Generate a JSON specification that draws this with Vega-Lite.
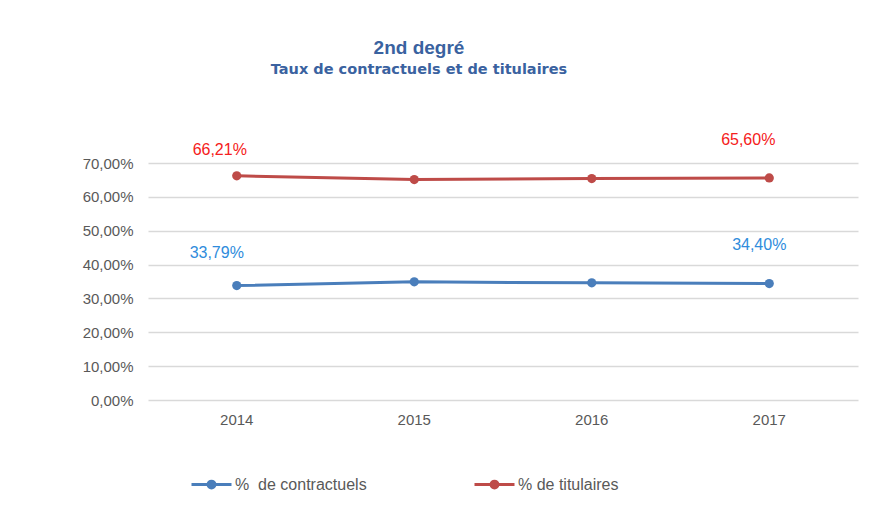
{
  "$schema": "https://vega.github.io/schema/vega-lite/v6.json",
  "width": 710,
  "height": 237,
  "autosize": {"type": "none"},
  "padding": {"left": 148, "top": 163, "right": 29, "bottom": 118},
  "background": "white",
  "config": {
    "locale": {"number": {"decimal": ",", "thousands": " ", "grouping": [3], "currency": ["", " €"]}},
    "view": {"stroke": null},
    "font": "Liberation Sans"
  },
  "title": {
    "text": "2nd degré",
    "subtitle": "Taux de contractuels et de titulaires",
    "anchor": "middle",
    "frame": "group",
    "dx": -84,
    "offset": 55,
    "font": "Liberation Sans",
    "fontSize": 19,
    "fontWeight": "bold",
    "color": "#3A62A0",
    "subtitleFont": "DejaVu Sans",
    "subtitleFontSize": 14.5,
    "subtitleFontWeight": "bold",
    "subtitleColor": "#3A62A0",
    "subtitlePadding": 5
  },
  "data": {
    "values": [
      {"annee": "2014", "serie": "% de contractuels", "taux": 0.3379},
      {"annee": "2015", "serie": "% de contractuels", "taux": 0.349},
      {"annee": "2016", "serie": "% de contractuels", "taux": 0.346},
      {"annee": "2017", "serie": "% de contractuels", "taux": 0.344},
      {"annee": "2014", "serie": "% de titulaires", "taux": 0.6621},
      {"annee": "2015", "serie": "% de titulaires", "taux": 0.651},
      {"annee": "2016", "serie": "% de titulaires", "taux": 0.654},
      {"annee": "2017", "serie": "% de titulaires", "taux": 0.656}
    ]
  },
  "encoding": {
    "x": {
      "field": "annee", "type": "ordinal",
      "scale": {"type": "band", "paddingInner": 0, "paddingOuter": 0},
      "axis": {"title": null, "labelAngle": 0, "domain": false, "ticks": false, "labelPadding": 12, "labelFontSize": 15, "labelColor": "#595959", "grid": false}
    },
    "y": {
      "field": "taux", "type": "quantitative",
      "scale": {"domain": [0, 0.7], "nice": false},
      "axis": {"title": null, "format": ".2%", "values": [0, 0.1, 0.2, 0.3, 0.4, 0.5, 0.6, 0.7], "domain": false, "ticks": false, "labelPadding": 15, "labelFontSize": 15, "labelColor": "#595959", "gridColor": "#d9d9d9", "gridWidth": 1.5}
    }
  },
  "layer": [
    {
      "mark": {"type": "line", "strokeWidth": 3},
      "encoding": {
        "color": {
          "field": "serie", "type": "nominal",
          "scale": {"domain": ["% de contractuels", "% de titulaires"], "range": ["#4A7EBB", "#BE4B48"]},
          "legend": {
            "title": null,
            "orient": "none",
            "direction": "horizontal",
            "legendX": 42,
            "legendY": 300,
            "symbolType": "M-1,0H1M-0.17,0A0.17,0.17 0 1,0 0.17,0A0.17,0.17 0 1,0 -0.17,0",
            "symbolSize": 1600,
            "symbolStrokeWidth": 3,
            "labelFontSize": 16,
            "labelColor": "#595959",
            "labelOffset": 2,
            "columnPadding": 101,
            "labelExpr": "datum.label == '% de contractuels' ? '%\u00a0 de contractuels' : datum.label"
          }
        }
      }
    },
    {
      "mark": {"type": "point", "filled": true, "size": 85, "opacity": 1},
      "encoding": {
        "color": {"field": "serie", "type": "nominal", "legend": null}
      }
    },
    {
      "transform": [{"filter": "datum.annee == '2014' && datum.serie == '% de titulaires'"}],
      "mark": {"type": "text", "fontSize": 16, "dx": -17, "dy": -26, "color": "#F52020"},
      "encoding": {"text": {"field": "taux", "type": "quantitative", "format": ".2%"}}
    },
    {
      "transform": [{"filter": "datum.annee == '2014' && datum.serie == '% de contractuels'"}],
      "mark": {"type": "text", "fontSize": 16, "dx": -20, "dy": -33, "color": "#2F8CDC"},
      "encoding": {"text": {"field": "taux", "type": "quantitative", "format": ".2%"}}
    },
    {
      "transform": [{"filter": "datum.annee == '2017' && datum.serie == '% de titulaires'"}],
      "mark": {"type": "text", "fontSize": 16, "dx": -21, "dy": -38, "color": "#F52020"},
      "encoding": {"text": {"field": "taux", "type": "quantitative", "format": ".2%"}}
    },
    {
      "transform": [{"filter": "datum.annee == '2017' && datum.serie == '% de contractuels'"}],
      "mark": {"type": "text", "fontSize": 16, "dx": -10, "dy": -39, "color": "#2F8CDC"},
      "encoding": {"text": {"field": "taux", "type": "quantitative", "format": ".2%"}}
    }
  ]
}
